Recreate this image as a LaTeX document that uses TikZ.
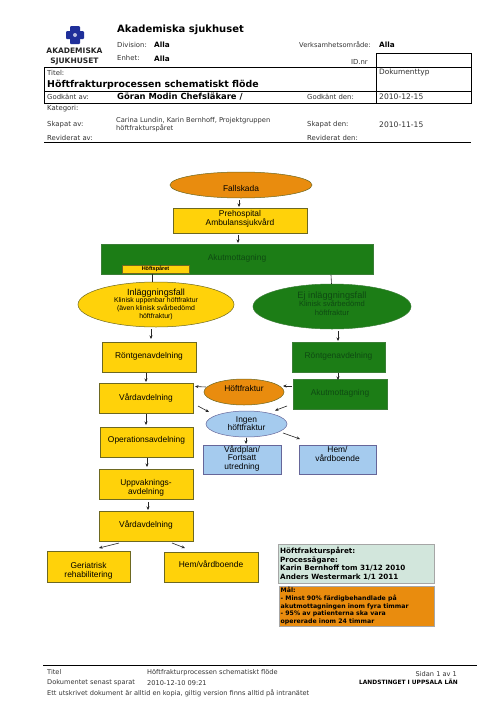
\documentclass[tikz,border=0pt]{standalone}
\usepackage{fontspec}
\setmainfont{Liberation Sans}
\newfontfamily\hdr{DejaVu Sans}
\usetikzlibrary{shapes.geometric,arrows.meta}
\definecolor{ygold}{HTML}{FFD20A}
\definecolor{ggreen}{HTML}{1C7D16}
\definecolor{gtext}{HTML}{0E4A12}
\definecolor{oorange}{HTML}{E98C0E}
\definecolor{bblue}{HTML}{A5CBEE}
\definecolor{lgreen}{HTML}{D2E6DC}
\definecolor{tgrey}{HTML}{333333}
\definecolor{logoblue}{HTML}{1F2F9A}
\tikzset{
 x=1pt,y=-1pt,
 boxbase/.style={draw,minimum width=0pt,minimum height=0pt,inner sep=0pt,align=center,font=\fontsize{8.4}{8.4}\selectfont,anchor=center},
 ybox/.style={boxbase,fill=ygold,draw=olive!70!black,line width=.5pt},
 gbox/.style={boxbase,fill=ggreen,draw=ggreen!70!gray,text=gtext,line width=.5pt},
 bbox/.style={boxbase,fill=bblue,draw=gray!80!blue,line width=.5pt},
 oell/.style={boxbase,ellipse,fill=oorange,draw=olive!70!black,line width=.5pt},
 yell/.style={boxbase,ellipse,fill=ygold,draw=olive!70!black,line width=.5pt},
 gell/.style={boxbase,ellipse,fill=ggreen,draw=ggreen!70!gray,text=gtext,line width=.5pt},
 bell/.style={boxbase,ellipse,fill=bblue,draw=gray!80!blue,line width=.5pt},
 conn/.style={-{Stealth[length=3.5pt,width=3pt]},line width=.6pt,black!85},
 plainconn/.style={line width=.6pt,black!85},
 rulebk/.style={line width=.8pt,black},
 lbl/.style={inner sep=0pt,anchor=west,font=\hdr\fontsize{6.9}{8}\selectfont,text=tgrey},
 vlbl/.style={inner sep=0pt,anchor=west,font=\hdr\bfseries\fontsize{7.3}{8}\selectfont,text=black},
 flbl/.style={lbl,font=\hdr\fontsize{6.6}{7.5}\selectfont},
}
\newcommand{\bx}[6]{\node[#1,minimum width=#4-#2,minimum height=#5-#3] (#6) at ({(#2+#4)/2},{(#3+#5)/2})}
\newcommand{\ctr}[2]{\raisebox{#1pt}[0pt][0pt]{\begin{tabular}{@{}c@{}}#2\end{tabular}}}
\begin{document}
\begin{tikzpicture}
\useasboundingbox (0,0) rectangle (500,707);
\fill[white] (0,0) rectangle (500,707);
% logo
\fill[logoblue,rounded corners=1pt] (70,26) rectangle (80,44);
\fill[logoblue,rounded corners=1pt] (66,31) rectangle (84,39);
\fill[white!70!logoblue] (75,35) circle (2);
\node[inner sep=0pt,font=\hdr\bfseries\fontsize{7.5}{8}\selectfont,text=black!85] (logoa) at (74.5,50.5) {AKADEMISKA};
\node[inner sep=0pt,font=\hdr\bfseries\fontsize{7.5}{8}\selectfont,text=black!85] (logob) at (74.5,61) {SJUKHUSET};
% header
\node[lbl,font=\hdr\bfseries\fontsize{10}{12}\selectfont,text=black] (h1) at (117,30) {Akademiska sjukhuset};
\node[lbl] (h2) at (117,44.5) {Division:};
\node[vlbl] (h3) at (154,44.5) {Alla};
\node[lbl,font=\hdr\fontsize{6.7}{8}\selectfont] (h4) at (299,44.5) {Verksamhetsområde:};
\node[vlbl] (h5) at (379,44.5) {Alla};
\node[lbl] (h6) at (117,57.5) {Enhet:};
\node[vlbl] (h7) at (154,59) {Alla};
\node[lbl,anchor=east] (h8) at (368,62) {ID.nr};
\draw[rulebk] (376,53) -- (471,53) -- (471,103) -- (44,103) -- (44,67) -- (471,67);
\draw[rulebk] (44,91) -- (471,91);
\draw[rulebk] (376,53) -- (376,103);
\node[lbl] (t1) at (47,72.5) {Titel:};
\node[lbl,font=\hdr\bfseries\fontsize{9.4}{11}\selectfont,text=black] (t2) at (47,84.5) {Höftfrakturprocessen schematiskt flöde};
\node[lbl,font=\hdr\fontsize{7.4}{8}\selectfont] (t3) at (379,72.5) {Dokumenttyp};
\node[lbl] (g1) at (47,96.5) {Godkänt av:};
\node[lbl,font=\hdr\bfseries\fontsize{8.4}{9}\selectfont,text=black] (g2) at (117,97) {Göran Modin Chefsläkare /};
\node[lbl] (g3) at (307,96.5) {Godkänt den:};
\node[lbl,font=\hdr\fontsize{7.6}{8}\selectfont] (g4) at (379,96.5) {2010-12-15};
\node[lbl] (k1) at (47,109) {Kategori:};
\node[lbl] (s1) at (47,124.5) {Skapat av:};
\node[lbl,align=left,font=\hdr\fontsize{6.7}{7.6}\selectfont] (s2) at (116,124.5) {Carina Lundin, Karin Bernhoff, Projektgruppen\\höftfrakturspåret};
\node[lbl] (s3) at (307,124.5) {Skapat den:};
\node[lbl,font=\hdr\fontsize{7.6}{8}\selectfont] (s4) at (379,124.5) {2010-11-15};
\node[lbl] (r1) at (47,138) {Reviderat av:};
\node[lbl] (r2) at (307,138) {Reviderat den:};
\draw[rulebk] (44,142) -- (471,142);
% flow nodes
\bx{oell}{170}{172}{312}{198}{fall} {\ctr{-7}{Fallskada}};
\bx{ybox}{173}{208}{307}{233}{preh} {\ctr{-1}{Prehospital\\Ambulanssjukvård}};
\bx{gbox}{101}{244}{373}{274}{akut} {\ctr{-2}{Akutmottagning}};
\bx{ybox}{122}{265}{189}{273}{hspar} {};
\node[inner sep=0pt,font=\bfseries\fontsize{5.5}{6}\selectfont] (hspart) at (155.5,268.8) {Höftspåret};
\bx{yell}{78}{282}{234}{327}{inl} {\fontsize{6.9}{7.5}\selectfont\ctr{-2}{\fontsize{9}{7.5}\selectfont Inläggningsfall\\Klinisk uppenbar höftfraktur\\(även klinisk svårbedömd\\höftfraktur)}};
\bx{gell}{253}{284}{411}{329}{ej} {\fontsize{7.6}{8.2}\selectfont\ctr{0}{\fontsize{9.2}{8.2}\selectfont Ej inläggningsfall\\Klinisk svårbedömd\\höftfraktur}};
\bx{ybox}{102}{342}{196}{372}{rl} {\ctr{-2}{Röntgenavdelning}};
\bx{ybox}{99}{383}{193}{413}{v1} {\ctr{-2}{Vårdavdelning}};
\bx{ybox}{100}{427}{193}{457}{op} {\ctr{-1}{Operationsavdelning}};
\bx{ybox}{99}{469}{193}{499}{upp} {\ctr{-6.5}{Uppvaknings-\\avdelning}};
\bx{ybox}{99}{511}{193}{541}{v2} {\ctr{-1}{Vårdavdelning}};
\bx{ybox}{47}{551}{130}{582}{ger} {\ctr{-7}{Geriatrisk\\rehabilitering}};
\bx{ybox}{164}{552}{258}{582}{hem2} {\ctr{0}{Hem/vårdboende}};
\bx{gbox}{292}{342}{385}{372}{rr} {\ctr{-2}{Röntgenavdelning}};
\bx{gbox}{293}{379}{387}{409}{ar} {\ctr{-2}{Akutmottagning}};
\bx{oell}{204}{379}{284}{405}{hf} {\ctr{0}{Höftfraktur}};
\bx{bell}{206}{411}{287}{437}{ing} {\ctr{-3}{Ingen\\höftfraktur}};
\bx{bbox}{203}{445}{281}{474}{vp} {\ctr{-1}{Vårdplan/\\Fortsatt\\utredning}};
\bx{bbox}{299}{445}{376}{474}{hem1} {\ctr{2.5}{Hem/\\vårdboende}};
\bx{boxbase,fill=lgreen,draw=gray!70,line width=.5pt}{278}{544}{434}{583}{info} {};
\node[inner sep=0pt,anchor=west,align=left,font=\hdr\bfseries\fontsize{7.2}{8.7}\selectfont] (infot) at (280,563.5) {Höftfrakturspåret:\\Processägare:\\Karin Bernhoff tom 31/12 2010\\Anders Westermark 1/1 2011};
\bx{boxbase,fill=oorange,draw=gray!70,line width=.5pt}{279}{586}{434}{626}{mal} {};
\node[inner sep=0pt,anchor=west,align=left,font=\hdr\bfseries\fontsize{6.2}{7.6}\selectfont] (malt) at (280.5,606) {Mål:\\- Minst 90\% färdigbehandlade på\\akutmottagningen inom fyra timmar\\- 95\%  av patienterna ska vara\\opererade inom  24 timmar};
% free ends
\coordinate (c1) at (239,200);
\coordinate (c2) at (239,207);
\coordinate (c3) at (238,234.5);
\coordinate (c4) at (238,243);
\coordinate (c5) at (152.5,274);
\coordinate (c6) at (152.5,282);
\coordinate (c7) at (331,275);
\coordinate (c8) at (331.5,284);
\coordinate (c9) at (151,329);
\coordinate (c10) at (151,339);
\coordinate (c11) at (338,331);
\coordinate (c12) at (338,341);
\coordinate (c13) at (146,372.5);
\coordinate (c14) at (146,382);
\coordinate (c15) at (338,372.5);
\coordinate (c16) at (338,380);
\coordinate (c17) at (146,414);
\coordinate (c18) at (146,425);
\coordinate (c19) at (147,458);
\coordinate (c20) at (147,467);
\coordinate (c21) at (148,502);
\coordinate (c22) at (148,510);
\coordinate (a0) at (292,386);
\coordinate (a1) at (283,386);
\coordinate (a2) at (206,387);
\coordinate (a3) at (195,386.5);
\coordinate (a4) at (198,406);
\coordinate (a5) at (209,412);
\coordinate (a6) at (287,406);
\coordinate (a7) at (275,410.5);
\coordinate (a8) at (246,438);
\coordinate (a9) at (246,444);
\coordinate (a10) at (283,433);
\coordinate (a11) at (300,439);
\coordinate (a12) at (119,543);
\coordinate (a13) at (99,548);
\coordinate (a14) at (172,543);
\coordinate (a15) at (185,548);
% connectors
\draw[conn] (c1) -- (c2);
\draw[conn] (c3) -- (c4);
\draw[plainconn] (c5) -- (c6);
\draw[plainconn] (c7) -- (c8);
\draw[conn] (c9) -- (c10);
\draw[conn] (c11) -- (c12);
\draw[conn] (c13) -- (c14);
\draw[conn] (c15) -- (c16);
\draw[conn] (c17) -- (c18);
\draw[conn] (c19) -- (c20);
\draw[conn] (c21) -- (c22);
\draw[conn] (a0) -- (a1);
\draw[conn] (a2) -- (a3);
\draw[conn] (a4) -- (a5);
\draw[conn] (a6) -- (a7);
\draw[conn] (a8) -- (a9);
\draw[conn] (a10) -- (a11);
\draw[conn] (a12) -- (a13);
\draw[conn] (a14) -- (a15);
% footer
\draw[rulebk] (43,665) -- (477,665);
\node[flbl] (f1) at (47,672.5) {Titel};
\node[flbl] (f2) at (147,672.5) {Höftfrakturprocessen schematiskt flöde};
\node[flbl,anchor=east] (f3) at (457,674) {Sidan 1 av 1};
\node[flbl] (f4) at (47,683) {Dokumentet senast sparat};
\node[flbl] (f5) at (147,683) {2010-12-10 09:21};
\node[inner sep=0pt,anchor=east,font=\hdr\bfseries\fontsize{5.9}{6.5}\selectfont] (f6) at (458,682) {LANDSTINGET I UPPSALA LÄN};
\node[flbl] (f7) at (47,693.5) {Ett utskrivet dokument är alltid en kopia, giltig version finns alltid på intranätet};
\end{tikzpicture}
\end{document}
